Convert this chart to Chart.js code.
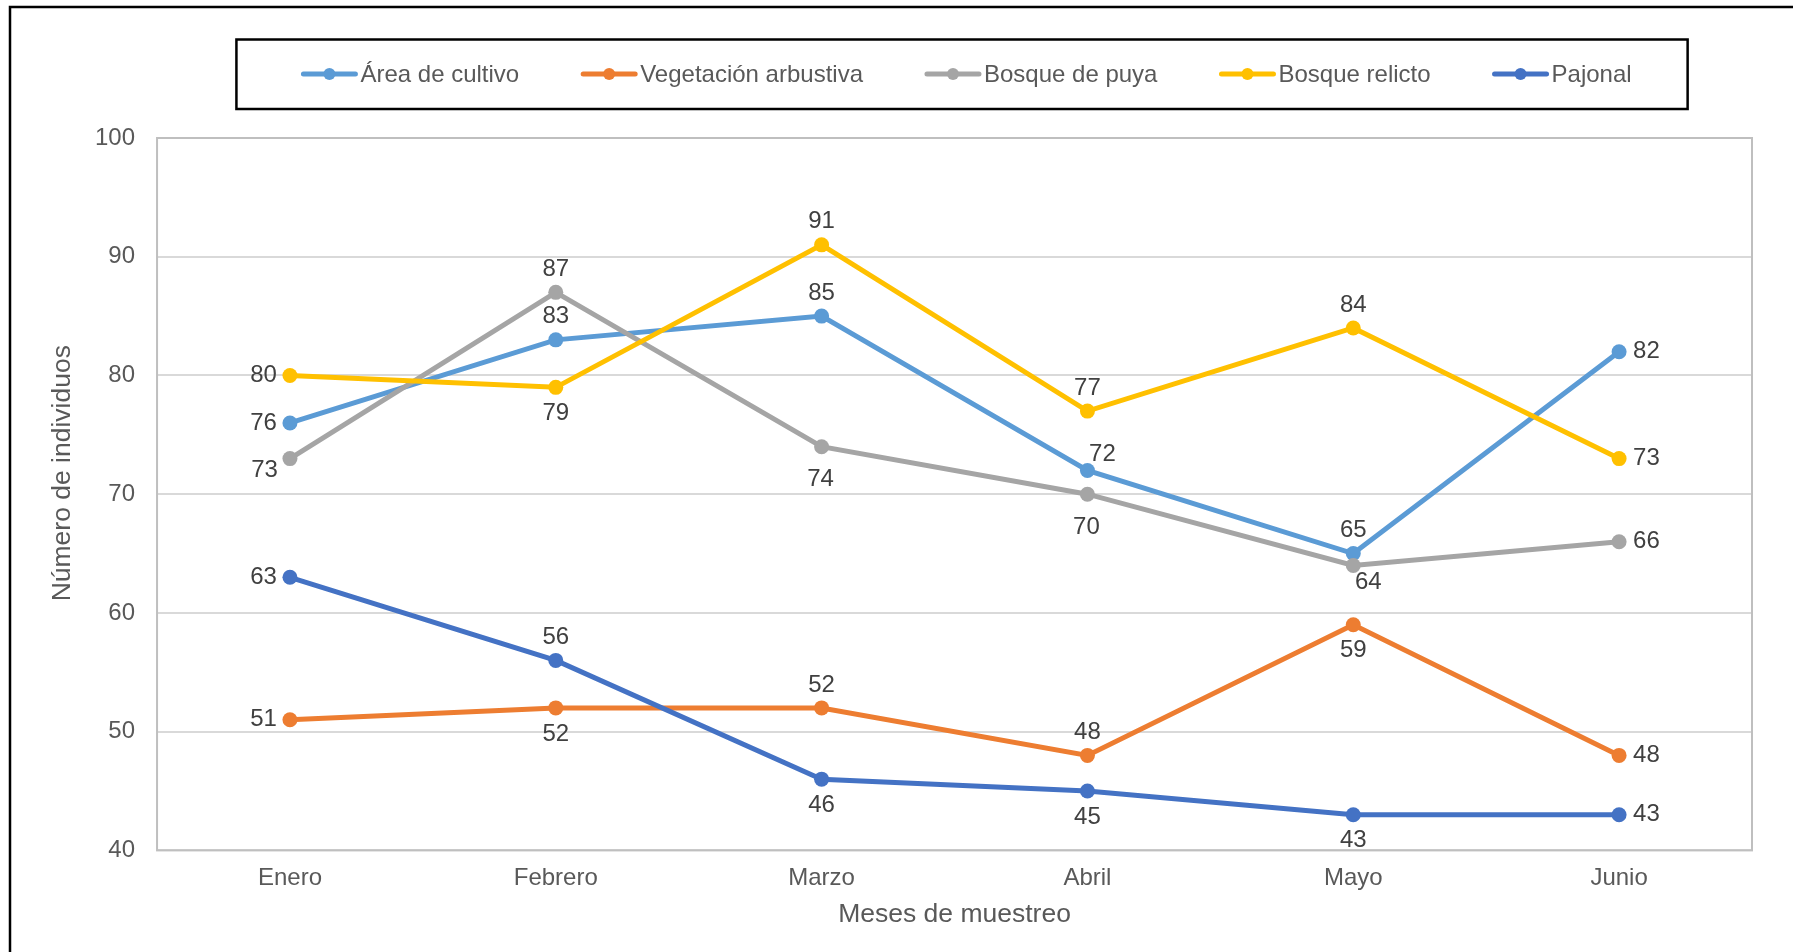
<!DOCTYPE html>
<html lang="es">
<head>
    <meta charset="UTF-8">
    <title>Número de individuos por mes</title>
    <style>
        body { margin: 0; background: #fff; overflow: hidden; }
        canvas { display: block; }
    </style>
    <script src="https://cdn.jsdelivr.net/npm/chart.js@4"></script>
</head>
<body>
    <canvas id="lineChart" width="1793" height="952"></canvas>

    <script>
        const meses = ['Enero', 'Febrero', 'Marzo', 'Abril', 'Mayo', 'Junio'];
        const areaCultivo = [76, 83, 85, 72, 65, 82];
        const vegetacionArbustiva = [51, 52, 52, 48, 59, 48];
        const bosquePuya = [73, 87, 74, 70, 64, 66];
        const bosqueRelicto = [80, 79, 91, 77, 84, 73];
        const pajonal = [63, 56, 46, 45, 43, 43];
        const yTicks = [40, 50, 60, 70, 80, 90, 100];

        // where each value label sits next to its point
        const labelPos = [
            ['l', 't', 't', 'tr', 't', 'r'],
            ['l', 'b', 't', 't', 'b', 'r'],
            ['lb', 't', 'B', 'B', 'br', 'r'],
            ['l', 'b', 't', 't', 't', 'r'],
            ['l', 't', 'b', 'b', 'b', 'r']
        ];
        const offsets = {
            l:  [-13, 0, 'right'],
            r:  [14, 0, 'left'],
            t:  [0, -23, 'center'],
            b:  [0, 26, 'center'],
            B:  [-1, 33, 'center'],
            tr: [15, -16, 'center'],
            lb: [-12, 12, 'right'],
            br: [15, 17, 'center']
        };

        const FONT = "'Liberation Sans', Arial, sans-serif";
        const Y_TITLE = 'Número de individuos';
        Chart.defaults.font.family = FONT;
        Chart.defaults.color = '#595959';

        function serie(label, data, color, i) {
            return {
                label: label,
                data: data,
                borderColor: color,
                backgroundColor: color,
                borderWidth: 5,
                pointRadius: 7.5,
                pointBorderWidth: 0,
                pointHoverRadius: 7.5,
                tension: 0,
                order: 10 - i
            };
        }

        // white page with the outer frame, plot border and y title
        const frame = {
            id: 'frame',
            beforeDraw(chart) {
                const ctx = chart.ctx;
                ctx.save();
                ctx.fillStyle = '#fff';
                ctx.fillRect(0, 0, chart.width, chart.height);
                ctx.strokeStyle = '#000';
                ctx.lineWidth = 2.5;
                ctx.strokeRect(10, 7, chart.width + 50, chart.height + 50);
                ctx.restore();
            },
            beforeDatasetsDraw(chart) {
                const a = chart.chartArea;
                const ctx = chart.ctx;
                ctx.save();
                ctx.strokeStyle = '#BFBFBF';
                ctx.lineWidth = 2;
                ctx.strokeRect(a.left, a.top, a.right - a.left, a.bottom - a.top);

                // y title, sitting a bit above the middle of the axis
                ctx.translate(63, (a.top + a.bottom) / 2 - 21);
                ctx.rotate(-Math.PI / 2);
                ctx.font = '26.5px ' + FONT;
                ctx.fillStyle = '#595959';
                ctx.textAlign = 'center';
                ctx.textBaseline = 'middle';
                ctx.fillText(Y_TITLE, 0, 0);
                ctx.restore();
            }
        };

        // value labels next to every point
        const valueLabels = {
            id: 'valueLabels',
            afterDatasetsDraw(chart) {
                const ctx = chart.ctx;
                ctx.save();
                ctx.font = '24px ' + FONT;
                ctx.fillStyle = '#404040';
                ctx.textBaseline = 'middle';
                chart.data.datasets.forEach((ds, i) => {
                    const meta = chart.getDatasetMeta(i);
                    meta.data.forEach((pt, j) => {
                        const o = offsets[labelPos[i][j]];
                        ctx.textAlign = o[2];
                        ctx.fillText(String(ds.data[j]), pt.x + o[0], pt.y + o[1]);
                    });
                });
                ctx.restore();
            }
        };

        // boxed legend with line + marker samples
        const boxedLegend = {
            id: 'boxedLegend',
            afterDraw(chart) {
                const ctx = chart.ctx;
                const markW = 56, textGap = 3, itemGap = 62, y = 74;
                ctx.save();
                ctx.font = '24px ' + FONT;
                const items = chart.data.datasets.map(ds => ({ ds: ds, w: ctx.measureText(ds.label).width }));
                const total = items.reduce((s, it) => s + markW + textGap + it.w, 0) + itemGap * (items.length - 1);
                const a = chart.chartArea;
                let x = (a.left + a.right) / 2 + 12 - total / 2;

                ctx.strokeStyle = '#000';
                ctx.lineWidth = 2.5;
                ctx.strokeRect(x - 65, 39.5, total + 121, 69.5);

                items.forEach(it => {
                    ctx.strokeStyle = it.ds.borderColor;
                    ctx.lineWidth = 5;
                    ctx.lineCap = 'round';
                    ctx.beginPath();
                    ctx.moveTo(x + 2, y);
                    ctx.lineTo(x + markW - 2, y);
                    ctx.stroke();
                    ctx.fillStyle = it.ds.borderColor;
                    ctx.beginPath();
                    ctx.arc(x + markW / 2, y, 6, 0, Math.PI * 2);
                    ctx.fill();

                    ctx.fillStyle = '#595959';
                    ctx.textAlign = 'left';
                    ctx.textBaseline = 'middle';
                    ctx.fillText(it.ds.label, x + markW + textGap, y + 1);
                    x += markW + textGap + it.w + itemGap;
                });
                ctx.restore();
            }
        };

        const lineChart = new Chart(document.getElementById('lineChart'), {
            type: 'line',
            data: {
                labels: meses,
                datasets: [
                    serie('Área de cultivo', areaCultivo, '#5B9BD5', 0),
                    serie('Vegetación arbustiva', vegetacionArbustiva, '#ED7D31', 1),
                    serie('Bosque de puya', bosquePuya, '#A5A5A5', 2),
                    serie('Bosque relicto', bosqueRelicto, '#FFC000', 3),
                    serie('Pajonal', pajonal, '#4472C4', 4)
                ]
            },
            options: {
                responsive: false,
                animation: false,
                layout: { padding: { left: 20, right: 41, top: 138, bottom: 0 } },
                plugins: {
                    legend: { display: false },
                    tooltip: { enabled: false }
                },
                scales: {
                    x: {
                        offset: true,
                        grid: { display: false, drawTicks: false },
                        border: { display: false },
                        ticks: { font: { size: 24 }, color: '#595959', padding: 14 },
                        title: {
                            display: true,
                            text: 'Meses de muestreo',
                            font: { size: 26.5 },
                            color: '#595959',
                            padding: { top: -8, bottom: 21 }
                        }
                    },
                    y: {
                        min: yTicks[0],
                        max: yTicks[yTicks.length - 1],
                        afterBuildTicks: scale => { scale.ticks = yTicks.map(v => ({ value: v })); },
                        // room for the y title drawn by the frame plugin
                        afterFit: scale => { scale.width += 53; },
                        grid: { color: '#D9D9D9', lineWidth: 2, drawTicks: false },
                        border: { display: false },
                        ticks: { font: { size: 24 }, color: '#595959', padding: 22 }
                    }
                }
            },
            plugins: [frame, valueLabels, boxedLegend]
        });
    </script>
</body>
</html>
